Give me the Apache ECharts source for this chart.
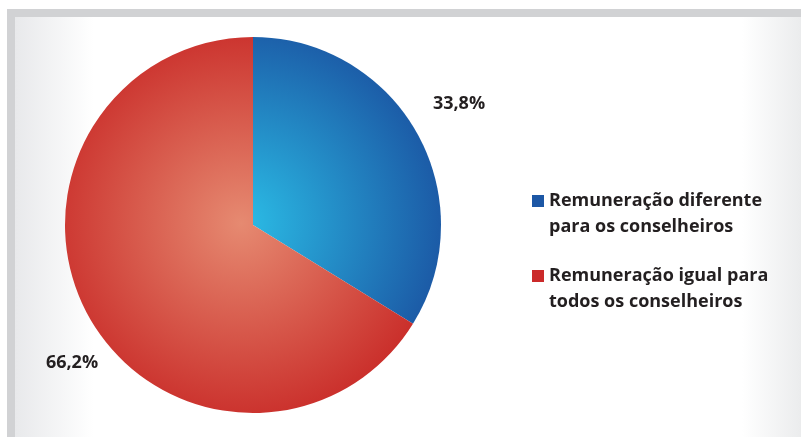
<!DOCTYPE html>
<html>
<head>
<meta charset="utf-8">
<script src="https://cdn.jsdelivr.net/npm/echarts@6/dist/echarts.min.js"></script>
<style>html,body{margin:0;padding:0;background:#fff;}#c{width:801px;height:437px;}</style>
</head>
<body>
<div id="c"></div>
<script>
var categories = ['Remuneração diferente\npara os conselheiros', 'Remuneração igual para\ntodos os conselheiros'];
var values = [33.8, 66.2];
var valueLabels = ['33,8%', '66,2%'];

var chart = echarts.init(document.getElementById('c'), null, {renderer: 'canvas'});
var CX = 253, CY = 225, R = 188;
var textColor = '#231f20';
var font = '"Open Sans", "Noto Sans", sans-serif';

function radial(inner, outer) {
  return {type: 'radial', x: CX - 12, y: CY - 2, r: R + 20, global: true,
    colorStops: [{offset: 0, color: inner}, {offset: 1, color: outer}]};
}
var sliceColors = [radial('#2bbde6', '#1b57a4'), radial('#e68a71', '#c92b28')];
var legendColors = ['#1c57a5', '#cb2a2a'];
var labelPos = [[459, 104], [72, 363]];

chart.setOption({
  backgroundColor: '#ffffff',
  animation: false,
  graphic: [
    {type: 'rect', shape: {x: 15, y: 17, width: 786, height: 420}, z: -10,
      style: {fill: {type: 'linear', x: 0, y: 0, x2: 1, y2: 0, colorStops: [
        {offset: 0, color: '#e8e9eb'}, {offset: 0.1, color: '#ffffff'},
        {offset: 0.925, color: '#ffffff'}, {offset: 1, color: '#ebeced'}]}}},
    {type: 'rect', shape: {x: 7, y: 9, width: 794, height: 8}, z: -5, style: {fill: '#d1d2d4'}},
    {type: 'rect', shape: {x: 7, y: 9, width: 8, height: 428}, z: -5, style: {fill: '#d1d2d4'}}
  ],
  legend: {
    orient: 'vertical', left: 532, top: 166, padding: 0,
    itemWidth: 12, itemHeight: 12, itemGap: 5, icon: 'rect',
    selectedMode: false,
    data: categories.map(function (c, i) { return {name: c, itemStyle: {color: legendColors[i]}}; }),
    formatter: function (name) {
      return '{s| }\n{t|' + name.split('\n').join('}\n{t|') + '}';
    },
    textStyle: {
      rich: {
        s: {lineHeight: 26, fontSize: 18, fontFamily: font},
        t: {lineHeight: 26, fontSize: 18, fontWeight: 'bold', fontFamily: font, color: textColor}
      }
    }
  },
  series: [{
    type: 'pie',
    center: [CX, CY],
    radius: [0, R],
    startAngle: 90,
    clockwise: true,
    avoidLabelOverlap: false,
    silent: true,
    label: {
      show: true, position: 'outside',
      formatter: function (p) { return valueLabels[p.dataIndex]; },
      fontSize: 18, fontWeight: 'bold', fontFamily: font, color: textColor
    },
    labelLine: {show: false},
    labelLayout: function (p) {
      return {x: labelPos[p.dataIndex][0], y: labelPos[p.dataIndex][1], align: 'center', verticalAlign: 'middle'};
    },
    itemStyle: {borderWidth: 0},
    emphasis: {disabled: true},
    data: categories.map(function (c, i) {
      return {name: c, value: values[i], itemStyle: {color: sliceColors[i]}};
    })
  }]
});
</script>
</body>
</html>
